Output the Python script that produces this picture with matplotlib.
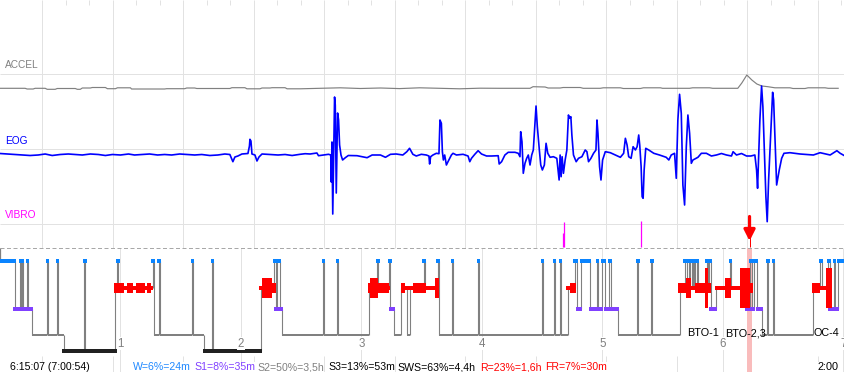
import matplotlib
matplotlib.use('Agg')
import matplotlib.pyplot as plt

plt.rcParams['font.family'] = ['Liberation Sans', 'DejaVu Sans']

# ---------------- data (time axis: 30-s epochs from recording start) ----------------
TOTAL_EPOCHS = 841.8          # 7:00:54
hour_labels = ['1', '2', '3', '4', '5', '6', '7']
EPOCHS_PER_HOUR = 120

# hypnogram: stage changes
stage_t = [0, 14.5, 20, 21, 22, 23, 27, 28, 31.7, 47,
           48, 57, 58, 63.3, 84, 85, 115, 117, 118, 152,
           153, 158, 159, 191, 192, 203, 211, 212, 260, 273,
           274.5, 275.5, 278.5, 280.5, 322, 323, 336, 337, 367.5, 376,
           377, 387.5, 389, 392.5, 399.5, 405, 408.5, 422, 423.5, 436,
           437, 450, 451, 476, 477, 540, 541, 552, 553, 558,
           559, 565.5, 572.5, 575, 579, 587.5, 595, 596, 600, 602.5,
           607, 608.5, 615.8, 635, 636, 649, 650, 677, 682, 684,
           686, 687, 689, 690, 691, 692, 694.5, 695.5, 704, 705,
           706.5, 708, 713.5, 727, 728, 743, 747, 749, 751, 754,
           758.7, 764.5, 765.5, 770, 771, 809.7, 817, 819, 825, 826.5,
           831, 832, 835]
stage_s = ['W', 'S1', 'W', 'S1', 'W', 'S1', 'W', 'S1', 'S2', 'W',
           'S2', 'W', 'S2', 'S3', 'W', 'S3', 'R', 'W', 'R', 'W',
           'S2', 'W', 'S2', 'W', 'S2', 'S3', 'W', 'S3', 'R', 'W',
           'S1', 'W', 'S1', 'S2', 'W', 'S2', 'W', 'S2', 'R', 'W',
           'R', 'W', 'S1', 'S2', 'R', 'S2', 'R', 'W', 'R', 'W',
           'S2', 'W', 'S2', 'W', 'S2', 'W', 'S2', 'W', 'S2', 'W',
           'S2', 'R', 'W', 'S1', 'W', 'S1', 'W', 'S1', 'W', 'S1',
           'W', 'S1', 'S2', 'W', 'S2', 'W', 'S2', 'R', 'W', 'R',
           'W', 'R', 'W', 'R', 'W', 'R', 'W', 'R', 'W', 'R',
           'W', 'S1', 'R', 'W', 'R', 'S1', 'W', 'S1', 'W', 'S1',
           'S2', 'W', 'S2', 'W', 'S2', 'R', 'W', 'R', 'W', 'S1',
           'W', 'S1', 'W']

# REM eye-movement density blocks
rem_t0 = [113.3, 124, 127, 132, 135, 144, 146, 150,
          258, 261.3, 271,
          366.3, 369, 376.7, 388,
          399, 403, 411, 424, 433,
          564, 568,
          675.3, 683.7, 688.3, 692, 702, 705.3, 712, 722.7, 728.7, 737, 747,
          808.7, 817, 823]
rem_t1 = [124, 127, 132, 135, 144, 146, 150, 152.7,
          261.3, 271, 274.7,
          369, 376.7, 388, 389,
          403, 411, 424, 433, 437.3,
          568, 573.7,
          683.7, 688.3, 692, 702, 705.3, 708.7, 722.7, 728.7, 737, 747, 749.7,
          817, 823, 828.7]
rem_lv = [2, 1, 2, 1, 2, 1, 2, 1,
          1, 3, 2,
          2, 3, 2, 1,
          2, 1, 2, 1, 3,
          1, 2,
          2, 3, 1, 2, 4, 2, 1, 3, 1, 4, 2,
          2, 1, 4]

# EOG trace (amplitude, up positive)
eog_t = [0, 8, 15, 22, 30, 38, 45, 52, 60, 68, 75, 82, 90, 98, 105, 112, 120, 128, 134, 141,
         149, 157, 164, 171, 179, 187, 194, 201, 209, 217, 224, 229, 232, 234, 237, 241, 247, 248.5, 249, 250,
         251, 254, 256, 258, 261, 269, 277, 284, 291, 299, 304, 309, 315.7, 317.3, 322.3, 327.3, 329.5, 330, 330.7, 331.5,
         333.3, 334, 335, 336.3, 337.3, 338.3, 339.7, 341.3, 344, 347, 355.7, 365.7, 370.7, 379, 384, 389, 394.7, 401.3, 405.3, 408,
         411.3, 414.7, 419.7, 424.7, 427.3, 428, 429, 431.3, 434.7, 437.3, 438.3, 439.7, 440.7, 441.7, 443, 444.7, 446.3, 449.7, 451.3, 454.7,
         461.3, 466.3, 468, 469.7, 473, 476.3, 479.7, 484.7, 489.7, 496.3, 497.3, 499.7, 503, 506.3, 513, 516.3, 518, 518.7, 520, 521.3,
         523, 524.7, 526.3, 528, 529.7, 531.3, 533, 534, 535.3, 537.3, 538.7, 540.3, 542.3, 544, 545.7, 548, 551.3, 554.7, 557, 558,
         559, 560, 561.3, 563, 564.7, 566.3, 567.3, 568.7, 569.7, 571.3, 574, 576.3, 579.7, 583, 584.7, 586.3, 588.7, 591.3, 593.7, 594.7,
         595.7, 597.3, 598.7, 600.3, 603, 608, 613, 618, 621.3, 623, 624.7, 626.3, 628.7, 630.7, 633, 634.7, 636.3, 637.3, 638.7, 639.7,
         640.7, 641.7, 643.3, 646.3, 651.3, 657, 663.7, 666.3, 668.7, 672, 673.7, 675.3, 677, 678.7, 680.3, 682, 683.7, 685.3, 687, 688.7,
         690.3, 695.3, 698.7, 703.7, 708.7, 713.7, 718.7, 723.7, 728.7, 730.3, 733.7, 738.7, 743.7, 748, 752, 753.7, 754.7, 756, 757, 758.7,
         760, 761.3, 763, 764.3, 765.7, 767.7, 769.7, 770.7, 772, 773.7, 776.3, 778.7, 781, 787, 797, 810.3, 817, 827, 833.7, 837,
         841.8]
eog_v = [1.0, 0.5, 0, -0.5, -1, -0.5, 0.5, -1, 0, 0.5, 0, -0.5, 0.5, 0, -1, 0, -0.5, 0.5, -0.5, 0,
         0.5, -0.5, 0, -0.5, 0.5, 0, -0.5, 0, -1, -0.5, 0.5, 0, -7.2, -2.5, -1.5, 0.5, 1, 8.5, 15.2, 13.5,
         0.5, -0.5, -6.5, -2.5, 0.5, 0, -0.5, 0, -1, 0.2, 0.8, 0.5, 1.5, -1.2, -0.5, 0.2, -0.5, -27.5, 12.5, -59.5,
         57.5, 49.5, -38.5, 41.5, 34.5, 9.5, -0.5, -5.5, -3.2, -1, -1.2, -3.2, -0.5, -0.5, -2.8, 0.2, 0.5, -0.5, 2.8, 6.2,
         0.2, -1.5, 0.2, -0.5, -1.5, -9.5, -2.2, -0.5, 1.2, 0.8, 34.5, 31.2, 2.8, -5.5, -0.5, -10.5, -7.2, -0.5, 1.2, -0.5,
         0.2, -1.5, -7.2, -3.8, 0.2, 3.8, 0.5, -1.5, -1.5, -1.2, -9.5, -7.2, -0.5, 2.2, 2.2, 1.2, -2.2, 22.8, 12.8, -18.8,
         -8.8, -3.8, -0.5, -10.5, -0.5, 4.5, 31.2, 48.5, 27.8, 4.5, -10.5, -15.5, -10.5, 11.2, 1.2, -2.8, -2.2, -3.8, -25.5, -0.5,
         -22.2, -2.2, -18.8, -5.5, 4.5, 39.5, 36.2, 37.8, 19.5, -0.5, -7.2, -3.8, -2.2, 4.5, 2.8, -7.2, -3.8, 1.2, 4.5, 34.5,
         21.2, -12.2, -25.5, -5.5, 2.8, 1.8, -0.5, -2.8, 1.2, 16.2, 9.5, -2.2, -3.8, 7.8, 4.5, 7.8, 19.5, 9.5, -12.2, -42.2,
         -43.8, -15.5, 6.2, 4.5, 1.2, -0.5, -2.8, -5.5, -0.5, 1.2, -23.8, 34.5, 60.2, 41.2, -30.5, -50.5, 7.8, 39.5, 21.2, -8.8,
         -5.5, -2.8, 1.2, 1.2, -1.5, -0.5, 1, -0.5, -1.5, 2.8, -0.5, 1, -1.5, -1.5, -0.5, -15.5, -33.8, 4.5, 34.5, 68.5,
         47.8, 7.8, -42.2, -67.2, -25.5, 17.8, 62.2, 54.5, 17.8, -30.5, -15.5, -3.8, 1.2, 1.8, 0.5, -0.5, 1.8, -0.5, 3.8, 1.2,
         -1.5]

# ACCEL trace
accel_t = [0, 25, 27, 33, 35, 45, 47, 55, 57, 75, 77, 80, 82, 90, 92, 105, 107, 115, 117, 130,
           131, 164, 166, 184, 186, 194, 196, 229, 231, 244, 246, 259, 261, 269, 271, 284, 286, 299, 319, 339,
           359, 379, 398, 418, 438, 458, 478, 498, 528, 531, 543, 546, 558, 561, 578, 581, 598, 601, 618, 621,
           638, 641, 658, 660, 687, 690, 707, 710, 735, 739, 744, 749, 754, 759, 765, 772, 787, 790, 802, 805,
           822, 825, 835]
accel_v = [-0.3, -0.3, -1, -1, -0.3, -0.3, -1.3, -1.3, -0.5, -0.5, -1.3, -1.3, 0, 0, 0.5, 0.5, -0.7, -0.7, 0.2, 0.2,
           -1, -1, -0.7, -0.7, 0, 0, -0.5, -0.5, 0.3, 0.3, -0.8, -0.8, 0, 0, 0.3, 0.3, -0.8, -0.8, -0.3, 0.2,
           -0.5, 0, -0.6, 0.2, -0.3, -0.8, -0.2, -0.3, -0.3, 1.3, 1, 0, 0, 0.5, 0.5, -0.3, -0.3, 0.2, 0.2, -0.5,
           -0.5, 0.2, 0.2, -0.3, -0.3, 0.2, 0.2, -0.3, -0.3, 5, 13, 8, 4, 2, 1.3, 0.2, 0.2, -0.5, -0.5, 0.2,
           0.2, -0.3, -0.3]

# VIBRO events
vibro_t = [560.7, 562.0, 638.3]
vibro_v = [14, 25, 26]

cursor_t = 746.7
cursor_label = '2:00'

event_labels = ['BTO-1', 'BTO-2,3', 'OC-4']
event_t = [684.3, 722.0, 810.3]

channel_names = ['ACCEL', 'EOG', 'VIBRO']
channel_colors = ['#808080', '#0000ff', '#ff00ff']

summary_texts = ['6:15:07 (7:00:54)', 'W=6%=24m', 'S1=8%=35m', 'S2=50%=3,5h', 'S3=13%=53m',
                 'SWS=63%=4,4h', 'R=23%=1,6h', 'FR=7%=30m']
summary_colors = ['#000000', '#1e88ff', '#8040ff', '#808080', '#000000', '#000000', '#ff0000', '#ff0000']
summary_t = [10, 132, 194, 256, 327, 396, 478, 543]

assert len(stage_t) == len(stage_s)
assert len(rem_t0) == len(rem_t1) == len(rem_lv)
assert len(eog_t) == len(eog_v)
assert len(accel_t) == len(accel_v)

# ---------------- layout / style ----------------
GRID_START, GRID_STEP = 42.0, 70.23
PX = 0.72   # one pixel in points
Y_ACCEL_LBL, Y_ACCEL_BASE, Y_ACCEL_GRID = 65.5, 88.0, 74.3
Y_EOG_LBL, Y_EOG_BASE, Y_EOG_GRID = 140.5, 154.5, 149.3
Y_VIB_LBL, Y_VIB_GRID, Y_VIB_BASE = 215.5, 224.0, 247.0
Y_DASH = 247.5
LEVEL = {'W': 260.7, 'R': 287.7, 'S1': 308.7, 'S2': 334.7, 'S3': 350.5}
STAGE_COL = {'W': '#0a84ff', 'S1': '#8040ff', 'S3': '#202020', 'R': '#ff0000'}
REM_H = {1: 4, 2: 10, 3: 20, 4: 40}
BAR_H, BAR_PAD = 4.0, 1.2
GRID_COL = '#e2e2e2'

fig = plt.figure(figsize=(8.45, 3.72), dpi=100)
ax = fig.add_axes([0, 0, 1, 1])
ax.set_xlim(0, TOTAL_EPOCHS)
ax.set_ylim(372, 0)
ax.axis('off')

# grid lines
grid_x = []
g = GRID_START
while g < TOTAL_EPOCHS:
    grid_x.append(g)
    g += GRID_STEP
ax.vlines(grid_x, 0, Y_DASH, color=GRID_COL, lw=PX, zorder=0.5)
ax.vlines(grid_x, 356, 372, color=GRID_COL, lw=PX, zorder=0.5)
minor_x = [gx + GRID_STEP * f for gx in grid_x for f in (1 / 3, 2 / 3)]
ax.vlines([m for m in minor_x if m < TOTAL_EPOCHS], 0, 5, color=GRID_COL, lw=PX, zorder=0.5)
ax.hlines([Y_ACCEL_GRID, Y_EOG_GRID, Y_VIB_GRID], 0, TOTAL_EPOCHS, color=GRID_COL, lw=PX, zorder=0.5)
hour_x = [EPOCHS_PER_HOUR * (i + 1) for i in range(len(hour_labels))]
ax.vlines(hour_x, Y_DASH, 372, color=GRID_COL, lw=PX, zorder=0.5)
for hx, hl in zip(hour_x, hour_labels):
    ax.text(hx, 343.8, hl, ha='center', va='center', fontsize=8.3, color='#808080', zorder=5,
            bbox=dict(facecolor='white', edgecolor='none', pad=0.3))

# cursor band
ax.axvspan(cursor_t - 2.2, cursor_t + 2.2, ymin=0, ymax=(372 - Y_DASH) / 372,
           color='#f9bcbc', lw=0, zorder=1)

# dashed separator
ax.hlines(Y_DASH, 0, TOTAL_EPOCHS, color='#a8a8a8', lw=PX, linestyles=(0, (4, 2.5)), zorder=1.5)

# channel labels
for name, col, yy in zip(channel_names, channel_colors, [Y_ACCEL_LBL, Y_EOG_LBL, Y_VIB_LBL]):
    ax.text(5 * TOTAL_EPOCHS / 845, yy, name, ha='left', va='center', fontsize=7.3, color=col, zorder=5)

# traces
ax.plot(accel_t, [Y_ACCEL_BASE - v for v in accel_v], color='#808080', lw=0.85, zorder=3)
ax.plot(eog_t, [Y_EOG_BASE - v for v in eog_v], color='#0000ff', lw=1.2, zorder=3)
ax.vlines(vibro_t, Y_VIB_BASE, [Y_VIB_BASE - v for v in vibro_v], color='#ff00ff', lw=0.9, zorder=3)

# hypnogram
ax.vlines([0], Y_DASH, LEVEL[stage_s[0]], color='#808080', lw=0.9, zorder=2)
conn_x, conn_y0, conn_y1 = [], [], []
for i in range(1, len(stage_t)):
    conn_x.append(stage_t[i])
    conn_y0.append(LEVEL[stage_s[i - 1]])
    conn_y1.append(LEVEL[stage_s[i]])
ax.vlines(conn_x, conn_y0, conn_y1, color='#808080', lw=0.8, zorder=2)

bars = {'W': [], 'S1': [], 'S3': [], 'R': []}
s2_x0, s2_x1 = [], []
for i, (t0, s) in enumerate(zip(stage_t, stage_s)):
    t1 = stage_t[i + 1] if i + 1 < len(stage_t) else TOTAL_EPOCHS
    if s == 'S2':
        s2_x0.append(t0)
        s2_x1.append(t1)
    elif s == 'R':
        bars['R'].append((t0, t1 - t0))
    else:
        bars[s].append((t0 - BAR_PAD, t1 - t0 + 2 * BAR_PAD))
ax.hlines([LEVEL['S2']] * len(s2_x0), s2_x0, s2_x1, color='#808080', lw=2 * PX, zorder=2.5)
for s in ('S3', 'S1', 'W'):
    ax.broken_barh(bars[s], (LEVEL[s] - BAR_H / 2, BAR_H), facecolors=STAGE_COL[s], zorder=3)
ax.broken_barh(bars['R'], (LEVEL['R'] - REM_H[1] / 2, REM_H[1]), facecolors=STAGE_COL['R'], zorder=4)
for t0, t1, lv in zip(rem_t0, rem_t1, rem_lv):
    ax.broken_barh([(t0, t1 - t0)], (LEVEL['R'] - REM_H[lv] / 2, REM_H[lv]),
                   facecolors=STAGE_COL['R'], zorder=4)

# event labels
for lab, et in zip(event_labels, event_t):
    ax.text(et, 333.5, lab, ha='left', va='center', fontsize=7.8, color='black', zorder=5)

# cursor arrow
ax.vlines([cursor_t], 236, Y_DASH - 1, color='red', lw=PX, zorder=6)
ax.annotate('', xy=(cursor_t, 241), xytext=(cursor_t, 216.5),
            arrowprops=dict(arrowstyle='-|>,head_width=0.33,head_length=0.65',
                            color='red', lw=2.3, shrinkA=0, shrinkB=0), zorder=6)

# summary row
for txt, col, tx in zip(summary_texts, summary_colors, summary_t):
    ax.text(tx, 370.5, txt, ha='left', va='baseline', fontsize=7.6, color=col, zorder=5,
            bbox=dict(facecolor='white', edgecolor='none', pad=0.2))
ax.text(814, 370.5, cursor_label, ha='left', va='baseline', fontsize=7.8, color='black', zorder=5,
        bbox=dict(facecolor='white', edgecolor='none', pad=0.3))

fig.savefig('out.png', dpi=100)
